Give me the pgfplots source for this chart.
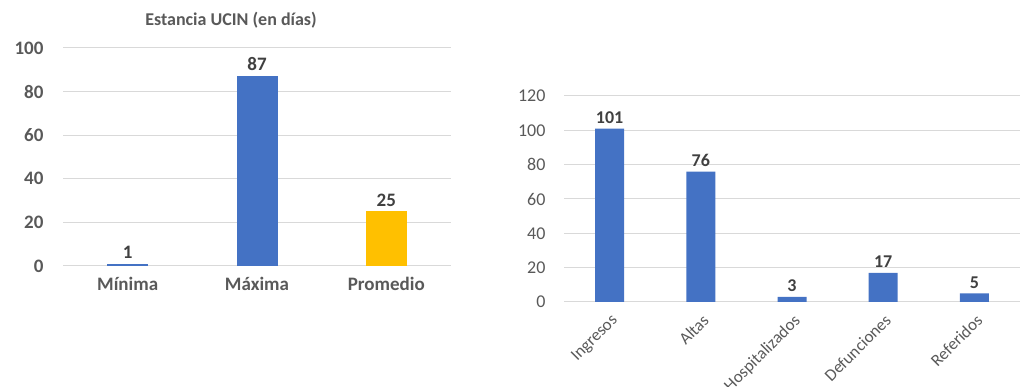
\documentclass[border=0pt]{standalone}
\usepackage{pgfplots}
\pgfplotsset{compat=1.18}
\usepackage{fontspec}
\setmainfont{Carlito}
\definecolor{barblue}{HTML}{4472C4}
\definecolor{bargold}{HTML}{FFC000}
\definecolor{gridgray}{HTML}{D9D9D9}
\definecolor{txtgray}{HTML}{595959}
\definecolor{lblgray}{HTML}{404040}
\begin{document}
\begin{tikzpicture}
\path[use as bounding box] (0,0) rectangle (1020pt,387pt);
% Left chart
\begin{axis}[
  at={(63pt,121pt)}, anchor=south west,
  scale only axis, width=388pt, height=218pt,
  xmin=-0.5, xmax=2.5, ymin=0, ymax=100,
  ytick={0,20,40,60,80,100},
  xtick={0,1,2}, xticklabels={Mínima,Máxima,Promedio},
  axis line style={draw=none}, major tick length=0pt,
  ymajorgrids, grid style={gridgray, line width=1pt},
  /pgf/number format/assume math mode=true,
  yticklabel style={font=\fontsize{19}{21}\selectfont\bfseries, text=txtgray, xshift=-16pt},
  xticklabel style={font=\fontsize{19}{21}\selectfont\bfseries, text=txtgray, yshift=-8pt},
  ybar, bar width=41pt, bar shift=0pt,
  nodes near coords,
  every node near coord/.append style={font=\fontsize{19}{21}\selectfont\bfseries, text=lblgray, inner sep=5pt},
  title={Estancia UCIN (en días)},
  title style={font=\fontsize{18}{20}\selectfont\bfseries, text=txtgray, yshift=10pt, xshift=-26pt},
]
\addplot[fill=barblue, draw=none] coordinates {(0,1)};
\addplot[fill=barblue, draw=none] coordinates {(1,87)};
\addplot[fill=bargold, draw=none] coordinates {(2,25)};
\end{axis}
% Right chart
\begin{axis}[
  at={(564pt,85pt)}, anchor=south west,
  scale only axis, width=456pt, height=206pt,
  xmin=-0.5, xmax=4.5, ymin=0, ymax=120,
  ytick={0,20,40,60,80,100,120},
  xtick={0,1,2,3,4}, xticklabels={Ingresos,Altas,Hospitalizados,Defunciones,Referidos},
  axis line style={draw=none}, major tick length=0pt,
  ymajorgrids, grid style={gridgray, line width=1pt},
  /pgf/number format/assume math mode=true,
  yticklabel style={font=\fontsize{18}{20}\selectfont, text=txtgray, xshift=-15pt},
  xticklabel style={font=\fontsize{17}{19}\selectfont, text=txtgray, rotate=45, anchor=north east, xshift=-4pt, yshift=-5pt},
  ybar, bar width=29pt, bar shift=0pt,
  nodes near coords,
  every node near coord/.append style={font=\fontsize{18}{20}\selectfont\bfseries, text=lblgray, inner sep=5pt},
]
\addplot[fill=barblue, draw=none] coordinates {(0,101) (1,76) (2,3) (3,17) (4,5)};
\end{axis}
\end{tikzpicture}
\end{document}
